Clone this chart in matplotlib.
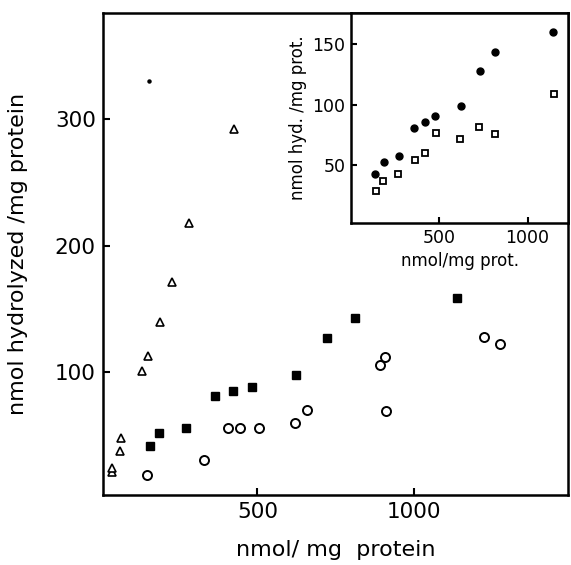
import matplotlib
matplotlib.use('Agg')
import matplotlib.pyplot as plt

# Main panel data (nmol/mg protein vs nmol hydrolyzed/mg protein)
FILLED_X = [156, 186, 271, 365, 421, 482, 623, 721, 811, 1137]
FILLED_Y = [42, 52, 56, 81, 85, 88, 98, 127, 143, 159]

CIRCLE_X = [148, 328, 405, 446, 504, 620, 658, 891, 908, 912, 1225, 1276]
CIRCLE_Y = [19, 31, 56, 56, 56, 60, 70, 106, 112, 69, 128, 122]

TRIANGLE_X = [34, 34, 61, 63, 130, 150, 190, 228, 280, 424]
TRIANGLE_Y = [21, 24, 38, 48, 101, 113, 140, 171, 218, 292]

SPECK_X = [154]
SPECK_Y = [330]

# Inset data
INSET_FILLED_X = [136, 184, 269, 358, 419, 477, 625, 731, 816, 1142]
INSET_FILLED_Y = [43, 53, 58, 81, 86, 91, 99, 128, 144, 160]

INSET_OPEN_X = [140, 178, 263, 362, 420, 483, 618, 725, 818, 1148]
INSET_OPEN_Y = [29, 37, 43, 54, 60, 77, 72, 82, 76, 109]

MAIN_XTICKS = [500, 1000]
MAIN_YTICKS = [100, 200, 300]
INSET_XTICKS = [500, 1000]
INSET_YTICKS = [50, 100, 150]


def style_axes(ax, lw=1.8):
    for side in ax.spines.values():
        side.set_linewidth(lw)
        side.set_color('black')
    ax.tick_params(direction='in', length=5, width=1.5, colors='black')


def draw_main(fig):
    ax = fig.add_axes([0.180, 0.124, 0.815, 0.853])
    ax.plot(FILLED_X, FILLED_Y, 's', color='black', ms=6.2, linestyle='none')
    ax.plot(CIRCLE_X, CIRCLE_Y, 'o', mfc='white', mec='black', mew=1.4, ms=6.5, linestyle='none')
    ax.plot(TRIANGLE_X, TRIANGLE_Y, '^', mfc='white', mec='black', mew=1.2, ms=5.2, linestyle='none')
    ax.plot(SPECK_X, SPECK_Y, 'o', color='black', ms=2.2, linestyle='none')
    ax.set_xlim(6, 1493)
    ax.set_ylim(3, 384)
    ax.set_xticks(MAIN_XTICKS)
    ax.set_yticks(MAIN_YTICKS)
    style_axes(ax)
    ax.tick_params(labelsize=15.5, pad=5)
    ax.set_xlabel('nmol/ mg  protein', fontsize=16)
    ax.set_ylabel('nmol hydrolyzed /mg protein', fontsize=16)
    ax.xaxis.set_label_coords(0.5, -0.093)
    ax.yaxis.set_label_coords(-0.160, 0.5)
    return ax


def draw_inset(fig):
    ax = fig.add_axes([0.615, 0.605, 0.380, 0.372])
    ax.plot(INSET_FILLED_X, INSET_FILLED_Y, 'o', color='black', ms=5, linestyle='none')
    ax.plot(INSET_OPEN_X, INSET_OPEN_Y, 's', mfc='white', mec='black', mew=1.3, ms=4.3, linestyle='none')
    ax.set_xlim(0, 1230)
    ax.set_ylim(2, 176)
    ax.set_xticks(INSET_XTICKS)
    ax.set_yticks(INSET_YTICKS)
    style_axes(ax)
    ax.tick_params(labelsize=12.5, pad=4, length=4)
    ax.set_xlabel('nmol/mg prot.', fontsize=12, labelpad=4)
    ax.set_ylabel('nmol hyd. /mg prot.', fontsize=12, labelpad=4)
    return ax


def main():
    plt.rcParams['font.family'] = ['DejaVu Sans']
    fig = plt.figure(figsize=(5.71, 5.65), dpi=100)
    draw_main(fig)
    draw_inset(fig)
    fig.savefig('out.png', dpi=100, facecolor='white')
    plt.close(fig)


if __name__ == "__main__":
    main()
